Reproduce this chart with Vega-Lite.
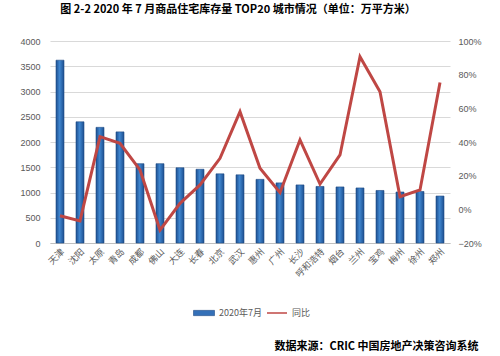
{
  "$schema": "https://vega.github.io/schema/vega-lite/v6.json",
  "autosize": {"type": "none"},
  "width": 400,
  "height": 202,
  "padding": {"left": 50, "top": 41, "right": 50, "bottom": 113},
  "background": "white",
  "title": {
    "text": "图 2-2  2020 年 7 月商品住宅库存量 TOP20 城市情况（单位：万平方米）",
    "anchor": "middle",
    "dx": -12,
    "offset": 22,
    "font": "Noto Sans CJK SC",
    "fontSize": 11,
    "fontWeight": "bold",
    "color": "#000000"
  },
  "data": {
    "values": [
      {"city": "天津", "stock": 3620, "yoy": -0.038},
      {"city": "沈阳", "stock": 2400, "yoy": -0.069},
      {"city": "太原", "stock": 2290, "yoy": 0.432},
      {"city": "青岛", "stock": 2200, "yoy": 0.392},
      {"city": "成都", "stock": 1570, "yoy": 0.234},
      {"city": "佛山", "stock": 1570, "yoy": -0.123},
      {"city": "大连", "stock": 1490, "yoy": 0.036},
      {"city": "长春", "stock": 1460, "yoy": 0.145},
      {"city": "北京", "stock": 1370, "yoy": 0.303},
      {"city": "武汉", "stock": 1350, "yoy": 0.58},
      {"city": "惠州", "stock": 1260, "yoy": 0.244},
      {"city": "广州", "stock": 1190, "yoy": 0.099},
      {"city": "长沙", "stock": 1150, "yoy": 0.412},
      {"city": "呼和浩特", "stock": 1120, "yoy": 0.15},
      {"city": "烟台", "stock": 1110, "yoy": 0.323},
      {"city": "兰州", "stock": 1090, "yoy": 0.907},
      {"city": "宝鸡", "stock": 1040, "yoy": 0.699},
      {"city": "梅州", "stock": 1010, "yoy": 0.075},
      {"city": "徐州", "stock": 1020, "yoy": 0.115},
      {"city": "郑州", "stock": 930, "yoy": 0.753}
    ]
  },
  "encoding": {
    "x": {
      "field": "city",
      "type": "nominal",
      "sort": null,
      "scale": {"paddingInner": 0.6, "paddingOuter": 0.3},
      "axis": {
        "labelAngle": -45,
        "labelFont": "Noto Sans CJK SC",
        "labelFontSize": 9,
        "labelColor": "#595959",
        "labelPadding": 4,
        "ticks": false,
        "domainColor": "#bfbfbf",
        "title": "数据来源：CRIC 中国房地产决策咨询系统",
        "titleX": 428,
        "titleY": 103,
        "titleAlign": "right",
        "titleBaseline": "middle",
        "titleAngle": 0,
        "titleFont": "Noto Sans CJK SC",
        "titleFontSize": 11,
        "titleFontWeight": "bold",
        "titleColor": "#000000"
      }
    }
  },
  "layer": [
    {
      "mark": {
        "type": "bar",
        "stroke": "#1f4a85",
        "strokeWidth": 0.6,
        "fill": {"gradient": "linear", "x1": 0, "y1": 0, "x2": 1, "y2": 0,
          "stops": [
            {"offset": 0, "color": "#1d4f8f"},
            {"offset": 0.45, "color": "#3f86d0"},
            {"offset": 1, "color": "#1d4f8f"}
          ]}
      },
      "encoding": {
        "y": {
          "field": "stock",
          "type": "quantitative",
          "scale": {"domain": [0, 4000], "nice": false},
          "axis": {
            "values": [0, 500, 1000, 1500, 2000, 2500, 3000, 3500, 4000],
            "format": "d",
            "title": null,
            "domain": false,
            "ticks": false,
            "gridColor": "#d9d9d9",
            "labelFont": "Liberation Sans",
            "labelFontSize": 9,
            "labelColor": "#595959",
            "labelPadding": 10
          }
        },
        "color": {
          "datum": "2020年7月",
          "scale": {"range": ["#3470b8"]},
          "legend": {
            "orient": "none",
            "legendX": 143,
            "legendY": 261,
            "title": null,
            "symbolType": "M-1,-0.25H1V0.25H-1Z",
            "symbolSize": 441,
            "symbolStrokeColor": "#1f4a85",
            "symbolStrokeWidth": 0.6,
            "labelFont": "Noto Sans CJK SC",
            "labelFontSize": 9,
            "labelColor": "#595959"
          }
        }
      }
    },
    {
      "mark": {"type": "line", "strokeWidth": 3, "strokeJoin": "miter"},
      "encoding": {
        "y": {
          "field": "yoy",
          "type": "quantitative",
          "scale": {"domain": [-0.2, 1.0], "nice": false},
          "axis": {
            "orient": "right",
            "values": [-0.2, 0, 0.2, 0.4, 0.6, 0.8, 1.0],
            "format": ".0%",
            "title": null,
            "grid": false,
            "domain": false,
            "ticks": false,
            "labelFont": "Liberation Sans",
            "labelFontSize": 9,
            "labelColor": "#595959",
            "labelPadding": 8
          }
        },
        "stroke": {
          "datum": "同比",
          "scale": {"range": ["#bf4744"]},
          "legend": {
            "orient": "none",
            "legendX": 216,
            "legendY": 261,
            "title": null,
            "symbolType": "stroke",
            "symbolSize": 400,
            "symbolStrokeWidth": 1.5,
            "labelFont": "Noto Sans CJK SC",
            "labelFontSize": 9,
            "labelColor": "#595959"
          }
        }
      }
    }
  ],
  "resolve": {"scale": {"y": "independent"}},
  "config": {
    "view": {"stroke": null},
    "axis": {"labelFont": "Noto Sans CJK SC"}
  }
}
